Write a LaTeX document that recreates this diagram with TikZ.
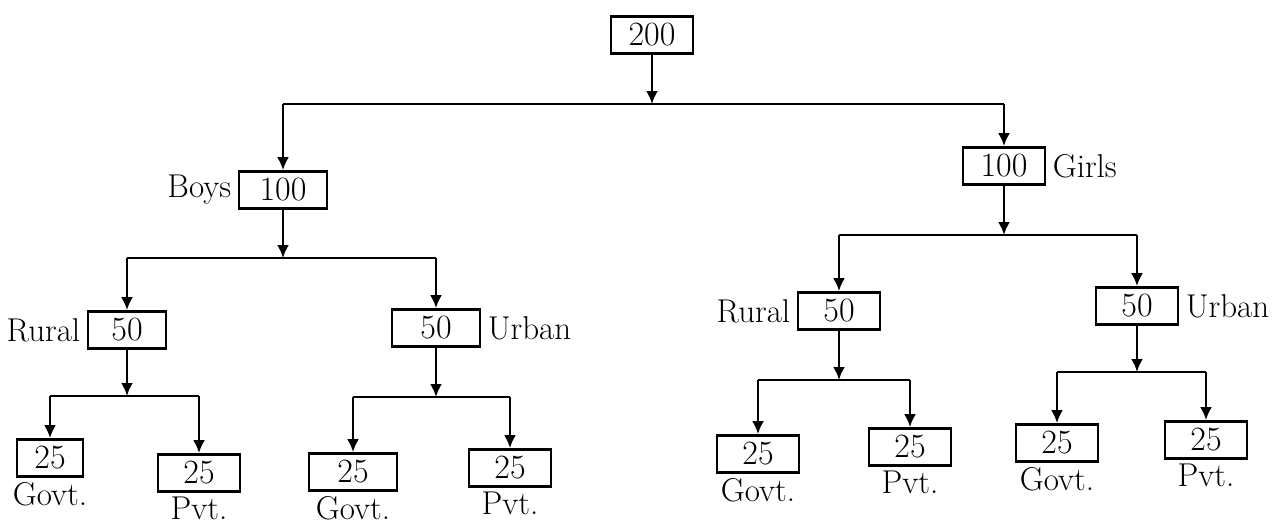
\documentclass[tikz,border=0pt]{standalone}
\usetikzlibrary{arrows.meta}
\tikzset{
  box/.style={draw, line width=1.4pt, minimum width=41pt, minimum height=18.5pt, inner sep=1pt, font=\fontsize{17}{19}\selectfont},
  lab/.style={inner sep=3pt, font=\fontsize{16.5}{18}\selectfont},
  conn/.style={line width=1.2pt},
  arr/.style={line width=1.2pt, -{Latex[length=6.5pt,width=6pt]}},
}
\begin{document}
\begin{tikzpicture}[x=0.5pt,y=-0.5pt]
\useasboundingbox (0,0) rectangle (1276,526);
% boxes
\node[box] (n200) at (652,35) {200};
\node[box, minimum width=44pt] (b100) at (283,190) {100};
\node[box] (g100) at (1004,166) {100};
\node[box, minimum width=39pt] (br) at (127,330) {50};
\node[box, minimum width=44pt] (bu) at (436,328) {50};
\node[box] (gr) at (839,311) {50};
\node[box] (gu) at (1137,306) {50};
\node[box, minimum width=33pt] (brg) at (50,458) {25};
\node[box] (brp) at (199,473) {25};
\node[box, minimum width=44pt] (bug) at (353,472) {25};
\node[box] (bup) at (510,468) {25};
\node[box] (grg) at (758,454) {25};
\node[box] (grp) at (910,447) {25};
\node[box] (gug) at (1057,443) {25};
\node[box] (gup) at (1206,440) {25};
% side labels
\node[lab, anchor=east] (lboys) at (b100.west) {Boys};
\node[lab, anchor=west] (lgirls) at (g100.east) {Girls};
\node[lab, anchor=east] (lbr) at (br.west) {Rural};
\node[lab, anchor=west] (lbu) at (bu.east) {Urban};
\node[lab, anchor=east] (lgr) at (gr.west) {Rural};
\node[lab, anchor=west] (lgu) at (gu.east) {Urban};
% bottom labels
\node[lab, anchor=north, inner sep=2pt] (tbrg) at (brg.south) {Govt.};
\node[lab, anchor=north, inner sep=2pt] (tbrp) at (brp.south) {Pvt.};
\node[lab, anchor=north, inner sep=2pt] (tbug) at (bug.south) {Govt.};
\node[lab, anchor=north, inner sep=2pt] (tbup) at (bup.south) {Pvt.};
\node[lab, anchor=north, inner sep=2pt] (tgrg) at (grg.south) {Govt.};
\node[lab, anchor=north, inner sep=2pt] (tgrp) at (grp.south) {Pvt.};
\node[lab, anchor=north, inner sep=2pt] (tgug) at (gug.south) {Govt.};
\node[lab, anchor=north, inner sep=2pt] (tgup) at (gup.south) {Pvt.};
% junctions
\coordinate (j0) at (652,104);
\coordinate (jb) at (283,258);
\coordinate (jg) at (1004,235);
\coordinate (jbr) at (127,396);
\coordinate (jbu) at (436,397);
\coordinate (jgr) at (839,380);
\coordinate (jgu) at (1137,372);
% level 1
\draw[arr] (n200.south) -- (j0);
\draw[conn] (b100 |- j0) -- (g100 |- j0);
\draw[arr] (b100 |- j0) -- (b100.north);
\draw[arr] (g100 |- j0) -- (g100.north);
% boys
\draw[arr] (b100.south) -- (jb);
\draw[conn] (br |- jb) -- (bu |- jb);
\draw[arr] (br |- jb) -- (br.north);
\draw[arr] (bu |- jb) -- (bu.north);
% girls
\draw[arr] (g100.south) -- (jg);
\draw[conn] (gr |- jg) -- (gu |- jg);
\draw[arr] (gr |- jg) -- (gr.north);
\draw[arr] (gu |- jg) -- (gu.north);
% boys rural
\draw[arr] (br.south) -- (jbr);
\draw[conn] (brg |- jbr) -- (brp |- jbr);
\draw[arr] (brg |- jbr) -- (brg.north);
\draw[arr] (brp |- jbr) -- (brp.north);
% boys urban
\draw[arr] (bu.south) -- (jbu);
\draw[conn] (bug |- jbu) -- (bup |- jbu);
\draw[arr] (bug |- jbu) -- (bug.north);
\draw[arr] (bup |- jbu) -- (bup.north);
% girls rural
\draw[arr] (gr.south) -- (jgr);
\draw[conn] (grg |- jgr) -- (grp |- jgr);
\draw[arr] (grg |- jgr) -- (grg.north);
\draw[arr] (grp |- jgr) -- (grp.north);
% girls urban
\draw[arr] (gu.south) -- (jgu);
\draw[conn] (gug |- jgu) -- (gup |- jgu);
\draw[arr] (gug |- jgu) -- (gug.north);
\draw[arr] (gup |- jgu) -- (gup.north);
\end{tikzpicture}
\end{document}
